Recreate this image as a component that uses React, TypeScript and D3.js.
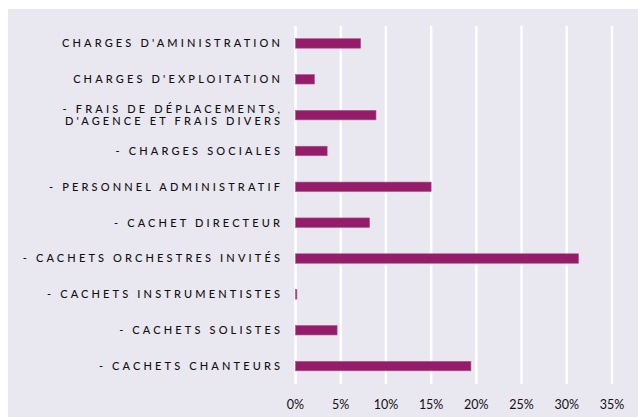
import React from "react";
import * as d3 from "d3";

const categories: string[][] = [
  ["CHARGES D'AMINISTRATION"],
  ["CHARGES D'EXPLOITATION"],
  ["- FRAIS DE DÉPLACEMENTS,", "D'AGENCE ET FRAIS DIVERS"],
  ["- CHARGES SOCIALES"],
  ["- PERSONNEL ADMINISTRATIF"],
  ["- CACHET DIRECTEUR"],
  ["- CACHETS ORCHESTRES INVITÉS"],
  ["- CACHETS INSTRUMENTISTES"],
  ["- CACHETS SOLISTES"],
  ["- CACHETS CHANTEURS"],
];
const values: number[] = [0.072, 0.021, 0.089, 0.035, 0.15, 0.082, 0.313, 0.0015, 0.046, 0.194];
const ticks: number[] = [0, 0.05, 0.1, 0.15, 0.2, 0.25, 0.3, 0.35];

const W = 638;
const H = 417;

export default function App() {
  const x = d3.scaleLinear().domain([0, 0.35]).range([295.5, 612]);
  const ids = categories.map((_, i) => String(i));
  const y = d3.scaleBand().domain(ids).range([25.5, 384]).paddingInner(0.735).paddingOuter(0.3675);
  const fmt = d3.format(".0%");
  const ls = 3.15;
  return (
    <svg width={W} height={H} style={{ position: "absolute", left: 0, top: 0 }}>
      <rect x={0} y={0} width={W} height={H} fill="#ffffff" />
      <rect x={8} y={9} width={W - 8} height={H - 9} fill="#e9e7f0" />
      {ticks.map((t) => (
        <line key={"g" + t} x1={x(t)} x2={x(t)} y1={26} y2={384} stroke="#ffffff" strokeWidth={2.5} />
      ))}
      {values.map((v, i) => (
        <rect
          key={"b" + i}
          x={x(0)}
          y={y(String(i))}
          width={Math.max(x(v) - x(0), 1)}
          height={y.bandwidth()}
          fill="#951c69"
          stroke="#b0578f"
          strokeWidth={0.6}
        />
      ))}
      {categories.map((lines, i) => {
        const cy = (y(String(i)) as number) + y.bandwidth() / 2;
        const n = lines.length;
        return lines.map((ln, j) => (
          <text
            key={"l" + i + "-" + j}
            x={280 + ls}
            y={cy + (j - (n - 1) / 2) * 12.5}
            dy="0.35em"
            textAnchor="end"
            fontFamily="Lato, 'Open Sans', sans-serif"
            fontSize={11}
            fontWeight={500}
            letterSpacing={ls}
            fill="#111111"
          >
            {ln}
          </text>
        ));
      })}
      {ticks.map((t) => (
        <text
          key={"t" + t}
          x={x(t)}
          y={405}
          dy="0.35em"
          textAnchor="middle"
          fontFamily="Lato, 'Open Sans', sans-serif"
          fontSize={12.5}
          fill="#111111"
        >
          {fmt(t)}
        </text>
      ))}
    </svg>
  );
}
